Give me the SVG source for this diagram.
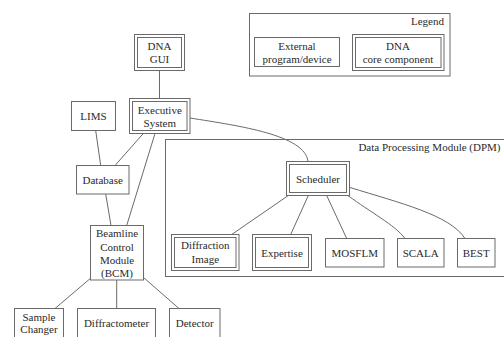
<svg xmlns="http://www.w3.org/2000/svg" width="504" height="337" viewBox="0 0 504 337">
<style>
  rect { fill: none; stroke: #6a6a6a; stroke-width: 1; }
  .bg { fill: #ffffff; stroke: none; }
  text { font-family: "Liberation Serif", "Times New Roman", serif; font-size: 11px; fill: #2a2a2a; text-anchor: middle; }
  .r { text-anchor: end; }
  #connectors path { fill: none; stroke: #6a6a6a; stroke-width: 1; }
</style>
<rect class="bg" x="0" y="0" width="504" height="337"/>

<g id="legend">
  <rect x="249.5" y="13.5" width="200.5" height="62.5"/>
  <text class="r" x="444" y="25">Legend</text>
</g>
<g id="legend-external">
  <rect x="254.5" y="37.5" width="85" height="29"/>
  <text x="297" y="49.5">External</text>
  <text x="297" y="63">program/device</text>
</g>
<g id="legend-core">
  <rect x="352.5" y="34.5" width="91.5" height="36"/>
  <rect x="355.5" y="37.5" width="85.5" height="30"/>
  <text x="398" y="49.5">DNA</text>
  <text x="398" y="63">core component</text>
</g>

<g id="dpm">
  <rect x="165.5" y="139.5" width="345" height="137"/>
  <text class="r" x="500.5" y="151">Data Processing Module (DPM)</text>
</g>

<g id="connectors">
  <path d="M159.5,70.5 L159.5,98.5"/>
  <path d="M190,118 C240,126 305,135 308,161.5"/>
  <path d="M95.7,130.5 L100.7,165.5"/>
  <path d="M143.3,133.5 L115,165.5"/>
  <path d="M155,133.5 L126.7,225.5"/>
  <path d="M105.7,194 L111,225.5"/>
  <path d="M90.5,278.3 L55,308.5"/>
  <path d="M116.7,280 L116.7,308.5"/>
  <path d="M143.3,277.3 L179,308.5"/>
  <path d="M288.3,195.5 L231.7,234.5"/>
  <path d="M308.3,195.5 L290.7,234.5"/>
  <path d="M326.7,195.5 L346.7,238.5"/>
  <path d="M348,195.5 C370,212 395,225 405,238.5"/>
  <path d="M350,187.5 C400,203 450,215 465,238.5"/>
</g>

<g id="dna-gui">
  <rect x="134.5" y="34.5" width="50" height="36"/>
  <rect x="137.5" y="37.5" width="44" height="30"/>
  <text x="159.5" y="49.5">DNA</text>
  <text x="159.5" y="62.5">GUI</text>
</g>
<g id="executive-system">
  <rect x="129.5" y="98.5" width="60.5" height="35"/>
  <rect x="132.5" y="101.5" width="54.5" height="29"/>
  <text x="159.8" y="113.5">Executive</text>
  <text x="159.8" y="126.5">System</text>
</g>
<g id="lims">
  <rect x="71.5" y="101.5" width="44" height="29"/>
  <text x="93.5" y="120">LIMS</text>
</g>
<g id="database">
  <rect x="76.5" y="165.5" width="52.5" height="28.5"/>
  <text x="102.7" y="184">Database</text>
</g>
<g id="bcm">
  <rect x="90.5" y="225.5" width="53" height="54.5"/>
  <text x="117" y="237.2">Beamline</text>
  <text x="117" y="250.5">Control</text>
  <text x="117" y="263.8">Module</text>
  <text x="117" y="276.5">(BCM)</text>
</g>
<g id="sample-changer">
  <rect x="14.5" y="308.5" width="49" height="32"/>
  <text x="39" y="320.5">Sample</text>
  <text x="39" y="333">Changer</text>
</g>
<g id="diffractometer">
  <rect x="77.5" y="308.5" width="78" height="32"/>
  <text x="116.5" y="327">Diffractometer</text>
</g>
<g id="detector">
  <rect x="169.5" y="308.5" width="50.5" height="32"/>
  <text x="194.7" y="327">Detector</text>
</g>

<g id="scheduler">
  <rect x="286.5" y="161.5" width="63" height="34"/>
  <rect x="289.5" y="164.5" width="57" height="28"/>
  <text x="318" y="182.5">Scheduler</text>
</g>
<g id="diffraction-image">
  <rect x="171.5" y="234.5" width="67.5" height="36"/>
  <rect x="174.5" y="237.5" width="61.5" height="30"/>
  <text x="205.3" y="249">Diffraction</text>
  <text x="205.3" y="263">Image</text>
</g>
<g id="expertise">
  <rect x="252.5" y="234.5" width="59" height="36"/>
  <rect x="255.5" y="237.5" width="53" height="30"/>
  <text x="282" y="256.5">Expertise</text>
</g>
<g id="mosflm">
  <rect x="325.5" y="238.5" width="58.5" height="28.5"/>
  <text x="354.7" y="256.5">MOSFLM</text>
</g>
<g id="scala">
  <rect x="397.5" y="238.5" width="46.5" height="28.5"/>
  <text x="420.7" y="256.5">SCALA</text>
</g>
<g id="best">
  <rect x="457.5" y="238.5" width="37.5" height="28.5"/>
  <text x="476.2" y="256.5">BEST</text>
</g>
</svg>
